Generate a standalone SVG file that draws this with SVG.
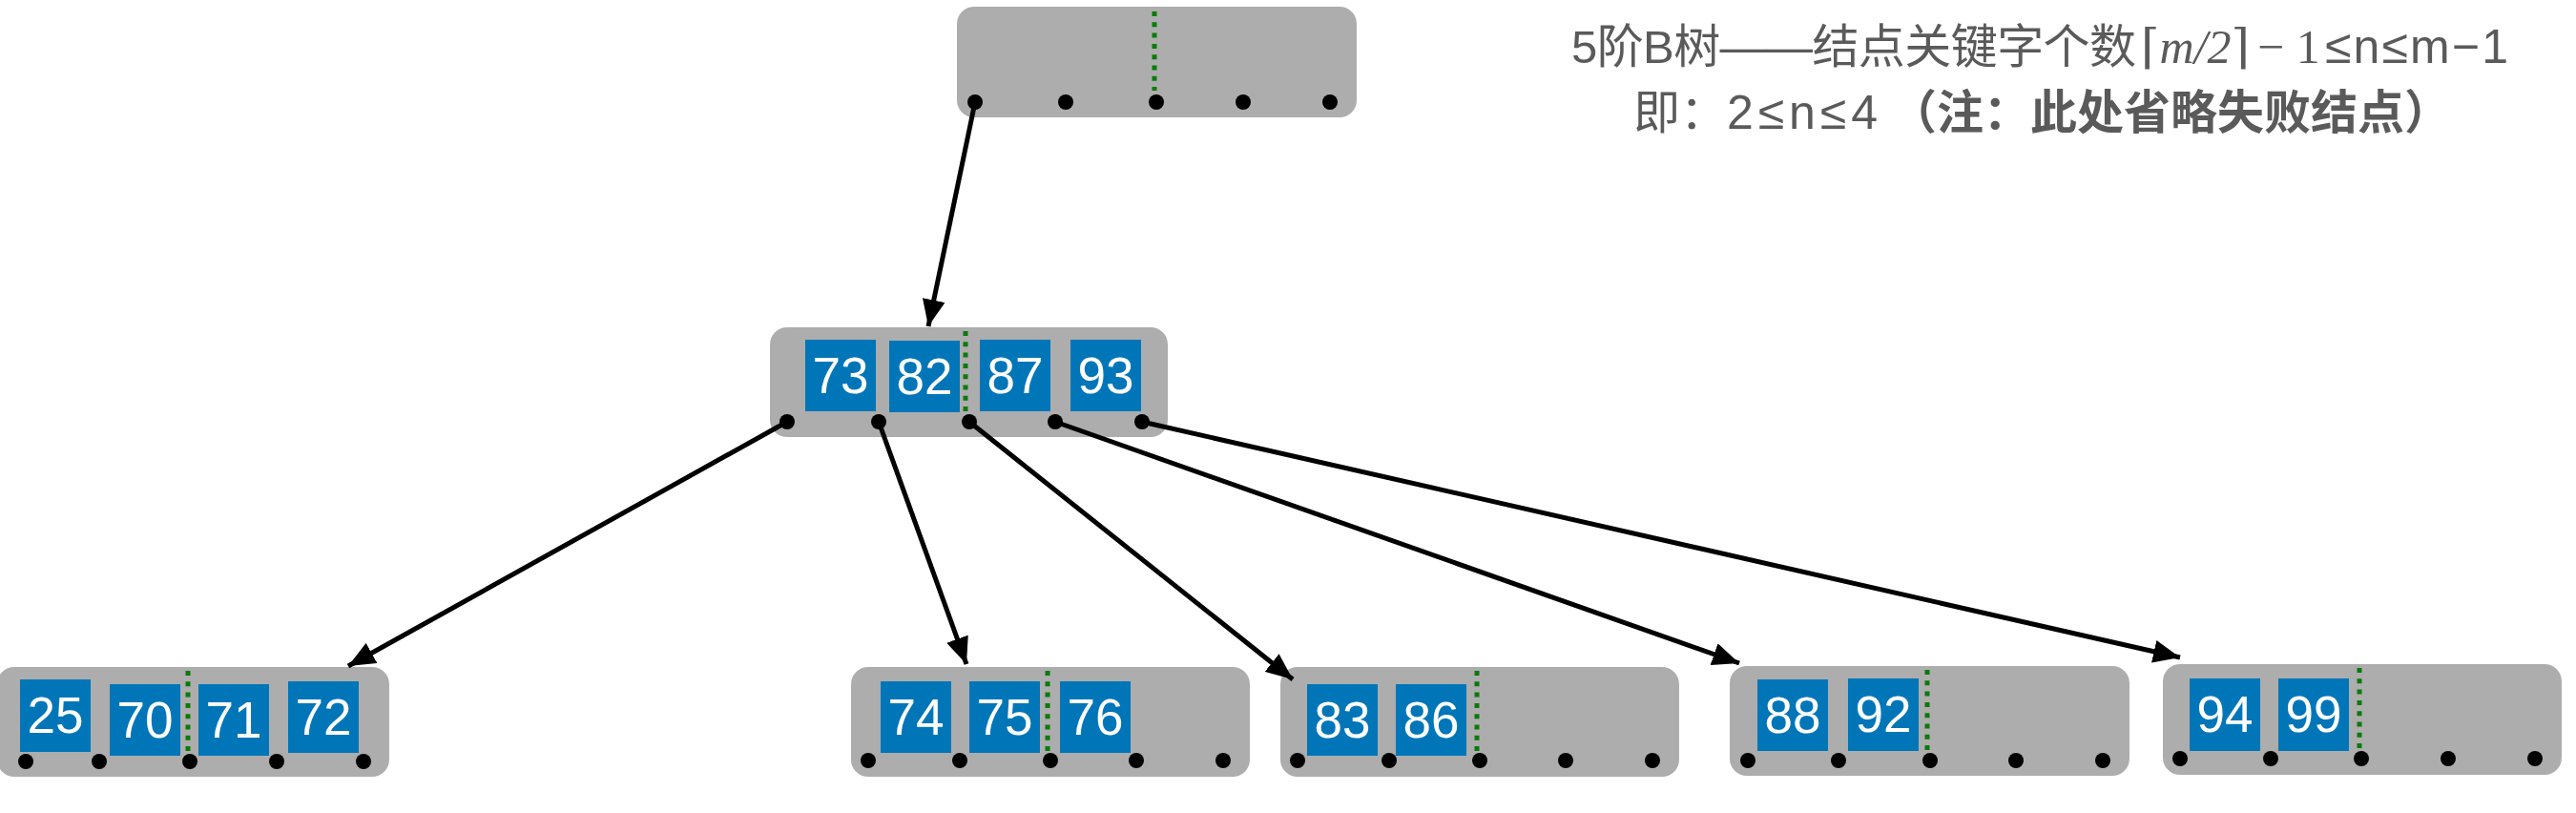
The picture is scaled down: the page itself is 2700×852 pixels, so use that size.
<svg xmlns="http://www.w3.org/2000/svg" width="2700" height="852" viewBox="0 0 2700 852">
<style>
.node{fill:#adadad}
.key{fill:#0076b8}
.kt{fill:#fff;font-family:"Liberation Sans",Arial,sans-serif;font-size:53px;text-anchor:middle}
.dot{fill:#000}
.split{stroke:#0a7a0a;stroke-width:5;stroke-dasharray:5 6.3;fill:none}
.edge{stroke:#000;stroke-width:5;fill:none;marker-end:url(#arr)}
.cap{fill:#5a5a5a;font-family:"Liberation Sans","Noto Sans CJK SC",sans-serif}
.ser{fill:#5a5a5a;font-family:"Liberation Serif","DejaVu Serif",serif}
</style>
<defs>
<marker id="arr" markerUnits="userSpaceOnUse" markerWidth="30" markerHeight="24" refX="28" refY="12" orient="auto">
<path d="M0,0 L28,12 L0,24 z" fill="#000"/>
</marker>
</defs>
<rect width="2700" height="852" fill="#fff"/>

<g id="caption">
<text class="cap" x="1647" y="66" font-size="49" textLength="592" lengthAdjust="spacing">5阶B树——结点关键字个数</text>
<text class="ser" x="2244" y="66" font-size="50">⌈<tspan font-style="italic">m</tspan><tspan font-style="italic">/2</tspan>⌉</text>
<text class="ser" x="2366" y="66" font-size="50">− 1</text>
<text class="cap" x="2437" y="66" font-size="50" textLength="192" lengthAdjust="spacing">≤n≤m−1</text>
<text class="cap" x="1712" y="135" font-size="49">即：</text>
<text class="cap" x="1810" y="135" font-size="50" textLength="158" lengthAdjust="spacing">2≤n≤4</text>
<text class="cap" x="1981" y="135" font-size="49" font-weight="bold" textLength="588" lengthAdjust="spacing">（注：此处省略失败结点）</text>
</g>

<g id="root">
<rect class="node" x="1003" y="7" width="419" height="116" rx="18"/>
<line class="split" x1="1210" y1="12" x2="1210" y2="95"/>
<circle class="dot" cx="1022" cy="107" r="8"/>
<circle class="dot" cx="1117" cy="107" r="8"/>
<circle class="dot" cx="1212" cy="107" r="8"/>
<circle class="dot" cx="1303" cy="107" r="8"/>
<circle class="dot" cx="1394" cy="107" r="8"/>
</g>

<g id="mid">
<rect class="node" x="807" y="343" width="417" height="115" rx="18"/>
<rect class="key" x="844" y="356" width="74" height="75"/><text class="kt" x="881" y="412">73</text>
<rect class="key" x="932" y="357" width="74" height="75"/><text class="kt" x="969" y="413">82</text>
<rect class="key" x="1027" y="356" width="74" height="75"/><text class="kt" x="1064" y="412">87</text>
<rect class="key" x="1122" y="356" width="74" height="75"/><text class="kt" x="1159" y="412">93</text>
<line class="split" x1="1012" y1="347" x2="1012" y2="432"/>
<circle class="dot" cx="825" cy="442" r="8"/>
<circle class="dot" cx="921" cy="442" r="8"/>
<circle class="dot" cx="1016" cy="442" r="8"/>
<circle class="dot" cx="1106" cy="442" r="8"/>
<circle class="dot" cx="1197" cy="442" r="8"/>
</g>

<g id="leaf1">
<rect class="node" x="-3" y="699" width="411" height="115" rx="18"/>
<rect class="key" x="21" y="712" width="74" height="76"/><text class="kt" x="58" y="768">25</text>
<rect class="key" x="115" y="717" width="74" height="75"/><text class="kt" x="152" y="773">70</text>
<rect class="key" x="208" y="717" width="74" height="75"/><text class="kt" x="245" y="773">71</text>
<rect class="key" x="302" y="714" width="74" height="75"/><text class="kt" x="339" y="770">72</text>
<line class="split" x1="197" y1="703" x2="197" y2="788"/>
<circle class="dot" cx="27" cy="798" r="8"/>
<circle class="dot" cx="104" cy="798" r="8"/>
<circle class="dot" cx="199" cy="798" r="8"/>
<circle class="dot" cx="290" cy="798" r="8"/>
<circle class="dot" cx="381" cy="798" r="8"/>
</g>

<g id="leaf2">
<rect class="node" x="892" y="699" width="418" height="115" rx="18"/>
<rect class="key" x="923" y="714" width="74" height="75"/><text class="kt" x="960" y="770">74</text>
<rect class="key" x="1016" y="714" width="74" height="75"/><text class="kt" x="1053" y="770">75</text>
<rect class="key" x="1111" y="714" width="74" height="75"/><text class="kt" x="1148" y="770">76</text>
<line class="split" x1="1098" y1="703" x2="1098" y2="788"/>
<circle class="dot" cx="910" cy="797" r="8"/>
<circle class="dot" cx="1006" cy="797" r="8"/>
<circle class="dot" cx="1101" cy="797" r="8"/>
<circle class="dot" cx="1191" cy="797" r="8"/>
<circle class="dot" cx="1282" cy="797" r="8"/>
</g>

<g id="leaf3">
<rect class="node" x="1342" y="699" width="418" height="115" rx="18"/>
<rect class="key" x="1370" y="717" width="74" height="75"/><text class="kt" x="1407" y="773">83</text>
<rect class="key" x="1463" y="717" width="74" height="75"/><text class="kt" x="1500" y="773">86</text>
<line class="split" x1="1548" y1="703" x2="1548" y2="788"/>
<circle class="dot" cx="1360" cy="797" r="8"/>
<circle class="dot" cx="1456" cy="797" r="8"/>
<circle class="dot" cx="1551" cy="797" r="8"/>
<circle class="dot" cx="1641" cy="797" r="8"/>
<circle class="dot" cx="1732" cy="797" r="8"/>
</g>

<g id="leaf4">
<rect class="node" x="1813" y="698" width="419" height="115" rx="18"/>
<rect class="key" x="1842" y="712" width="74" height="75"/><text class="kt" x="1879" y="768">88</text>
<rect class="key" x="1937" y="711" width="74" height="76"/><text class="kt" x="1974" y="767">92</text>
<line class="split" x1="2020" y1="702" x2="2020" y2="786"/>
<circle class="dot" cx="1832" cy="797" r="8"/>
<circle class="dot" cx="1927" cy="797" r="8"/>
<circle class="dot" cx="2023" cy="797" r="8"/>
<circle class="dot" cx="2113" cy="797" r="8"/>
<circle class="dot" cx="2204" cy="797" r="8"/>
</g>

<g id="leaf5">
<rect class="node" x="2267" y="696" width="418" height="116" rx="18"/>
<rect class="key" x="2295" y="711" width="74" height="76"/><text class="kt" x="2332" y="767">94</text>
<rect class="key" x="2388" y="711" width="74" height="76"/><text class="kt" x="2425" y="767">99</text>
<line class="split" x1="2473" y1="700" x2="2473" y2="784"/>
<circle class="dot" cx="2285" cy="795" r="8"/>
<circle class="dot" cx="2380" cy="795" r="8"/>
<circle class="dot" cx="2475" cy="795" r="8"/>
<circle class="dot" cx="2566" cy="795" r="8"/>
<circle class="dot" cx="2657" cy="795" r="8"/>
</g>

<g id="connectors">
<line class="edge" x1="1022" y1="107" x2="973" y2="342"/>
<line class="edge" x1="825" y1="442" x2="365" y2="698"/>
<line class="edge" x1="921" y1="442" x2="1013" y2="696"/>
<line class="edge" x1="1016" y1="442" x2="1355" y2="712"/>
<line class="edge" x1="1106" y1="442" x2="1823" y2="695"/>
<line class="edge" x1="1197" y1="442" x2="2285" y2="689"/>
</g>
</svg>
